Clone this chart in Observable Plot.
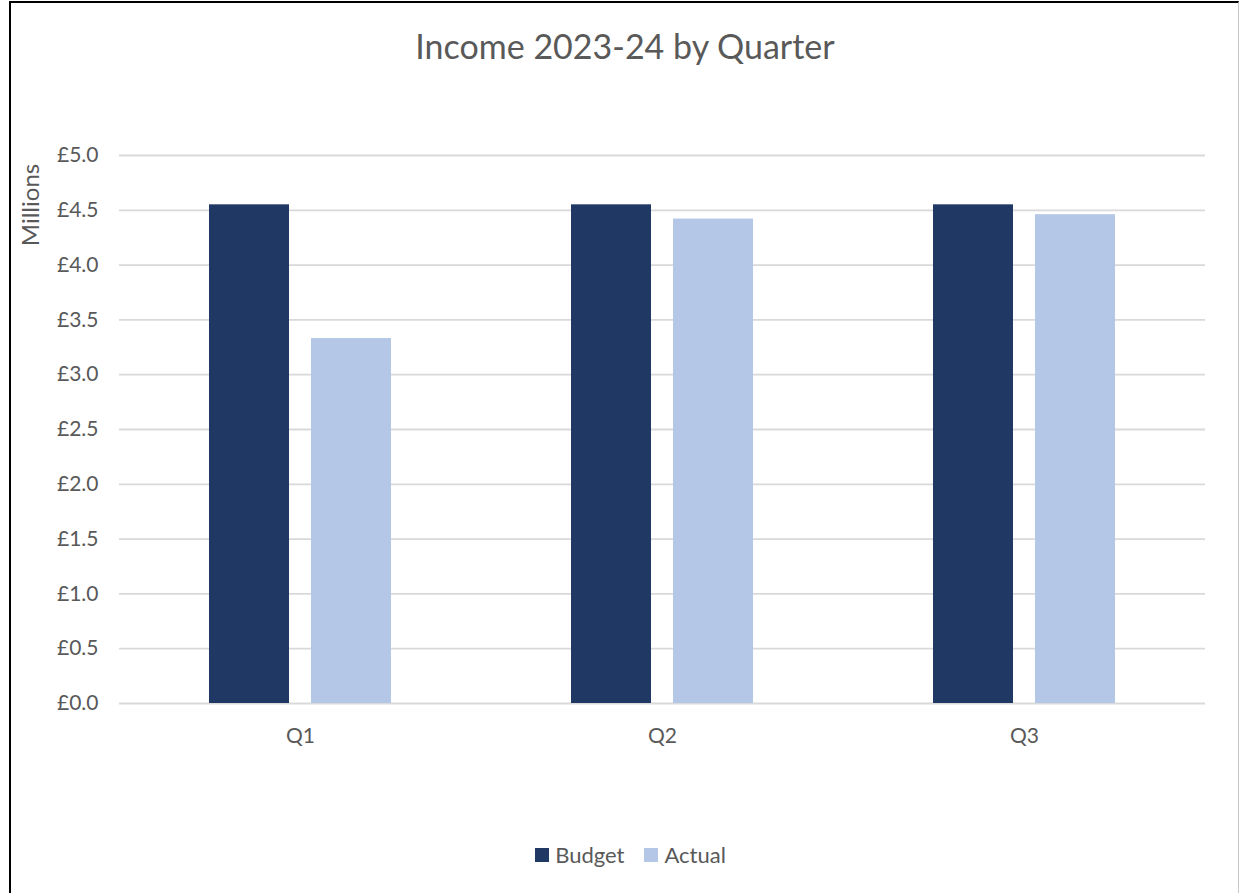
<!DOCTYPE html>
<html>
<head>
<meta charset="utf-8">
<script src="https://cdn.jsdelivr.net/npm/d3@7"></script>
<script src="https://cdn.jsdelivr.net/npm/@observablehq/plot@0.6"></script>
<style>
  html, body { margin: 0; padding: 0; background: #fff; }
  #wrap { position: relative; width: 1242px; height: 893px; overflow: hidden; font-family: Lato, "Open Sans", sans-serif; color: #595959; }
  #frame { position: absolute; left: 9px; top: 1px; width: 1230px; height: 900px; border-left: 2px solid #000; border-top: 2px solid #000; border-right: 1px solid #c8c8c8; box-sizing: border-box; }
  #title { position: absolute; left: 0; width: 1250px; top: 29px; text-align: center; font-size: 34px; line-height: 34px; white-space: nowrap; }
  #ylabel { position: absolute; left: 30px; top: 205px; transform: translate(-50%, -50%) rotate(-90deg); font-size: 24px; line-height: 24px; white-space: nowrap; }
  #chart { position: absolute; left: 0; top: 0; }
  #legend { position: absolute; left: 0; width: 1261px; top: 842px; display: flex; justify-content: center; align-items: center; font-size: 22px; line-height: 26px; }
  .item { display: flex; align-items: center; margin: 0 10px; }
  .sw { width: 14px; height: 14px; margin-right: 6px; }
</style>
</head>
<body>
<div id="wrap">
  <div id="frame"></div>
  <div id="title"></div>
  <div id="ylabel"></div>
  <div id="chart"></div>
  <div id="legend"></div>
</div>
<script>
const titleText = "Income 2023-24 by Quarter";
const yLabel = "Millions";
const quarters = ["Q1", "Q2", "Q3"];
const seriesNames = ["Budget", "Actual"];
const budget = [4.55, 4.55, 4.55];
const actual = [3.33, 4.42, 4.46];
const yTicks = [0, 0.5, 1.0, 1.5, 2.0, 2.5, 3.0, 3.5, 4.0, 4.5, 5.0];
const colors = ["#203864", "#b4c7e7"];

const data = [];
quarters.forEach((q, i) => {
  data.push({quarter: q, series: "Budget", value: budget[i]});
  data.push({quarter: q, series: "Actual", value: actual[i]});
});

document.getElementById("title").textContent = titleText;
document.getElementById("ylabel").textContent = yLabel;

const chart = Plot.plot({
  width: 1242,
  height: 770,
  marginLeft: 118,
  marginRight: 37,
  marginTop: 155,
  marginBottom: 67,
  style: {fontFamily: "Lato, 'Open Sans', sans-serif", fontSize: "21px", color: "#595959", background: "transparent", overflow: "visible"},
  fx: {domain: quarters, padding: 0, label: null, axis: "bottom", tickSize: 0, tickPadding: 25},
  x: {domain: seriesNames, paddingInner: 0.2136, paddingOuter: 0.867, axis: null},
  y: {domain: [0, 5], ticks: yTicks, tickFormat: d => "£" + d.toFixed(1), tickSize: 0, tickPadding: 21, label: null},
  color: {domain: seriesNames, range: colors},
  marks: [
    Plot.gridY(yTicks, {stroke: "#d9d9d9", strokeOpacity: 1, strokeWidth: 1.8}),
    Plot.barY(data, {fx: "quarter", x: "series", y: "value", fill: "series"})
  ]
});
document.getElementById("chart").appendChild(chart);

const legend = document.getElementById("legend");
seriesNames.forEach((s, i) => {
  const item = document.createElement("div");
  item.className = "item";
  const sw = document.createElement("div");
  sw.className = "sw";
  sw.style.background = colors[i];
  const t = document.createElement("span");
  t.textContent = s;
  item.appendChild(sw);
  item.appendChild(t);
  legend.appendChild(item);
});
</script>
</body>
</html>
